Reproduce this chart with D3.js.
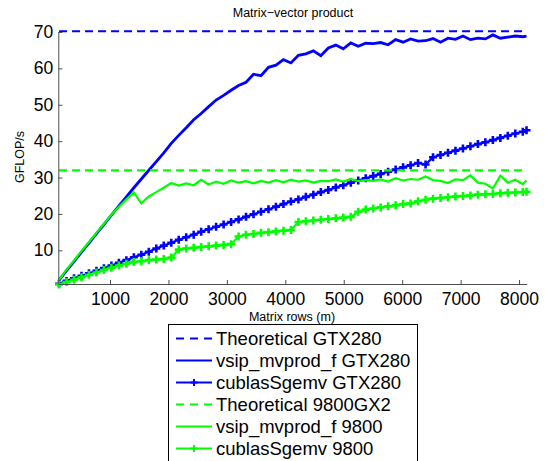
<!DOCTYPE html>
<head>
<style>
  body { margin: 0; background: #fff; }
  svg { font-family: "Liberation Sans", Arial, Helvetica, sans-serif; }
</style>
</head>
<svg width="548" height="461"></svg>
<script src="https://d3js.org/d3.v7.min.js"></script>
<script>

// matrix rows (m)
var rows = [128, 256, 384, 512, 640, 768, 896, 1024, 1152, 1280, 1408, 1536, 1664, 1792, 1920, 2048,
  2176, 2304, 2432, 2560, 2688, 2816, 2944, 3072, 3200, 3328, 3456, 3584, 3712, 3840, 3968, 4096,
  4224, 4352, 4480, 4608, 4736, 4864, 4992, 5120, 5248, 5376, 5504, 5632, 5760, 5888, 6016, 6144,
  6272, 6400, 6528, 6656, 6784, 6912, 7040, 7168, 7296, 7424, 7552, 7680, 7808, 7936, 8064, 8128];

var theoGTX280 = 70.2;
var theo9800 = 32;

var vsipGTX280 = [1.8, 4.4, 6.9, 9.5, 12.0, 14.6, 17.1, 19.7, 22.2, 24.7, 27.2, 29.6, 32.0, 34.4, 36.8, 39.4,
  41.6, 43.7, 45.9, 47.6, 49.5, 51.3, 52.6, 54.0, 55.3, 56.2, 58.4, 58.0, 60.3, 60.9, 62.4, 61.5,
  63.6, 64.0, 64.8, 63.5, 65.6, 66.4, 65.4, 67.0, 66.1, 66.9, 66.8, 67.1, 66.5, 67.9, 67.2, 68.1,
  67.5, 67.6, 68.2, 67.2, 68.3, 68.0, 68.9, 67.9, 68.3, 68.1, 69.2, 68.3, 68.6, 68.9, 68.7, 68.9];

var cublasGTX280 = [0.8, 1.6, 2.3, 3.0, 3.7, 4.4, 5.1, 5.8, 6.6, 7.3, 8.1, 8.8, 9.6, 10.5, 11.3, 12.1,
  12.9, 13.6, 14.3, 15.1, 15.8, 16.5, 17.1, 17.8, 18.5, 19.2, 19.9, 20.6, 21.3, 22.0, 22.7, 23.4,
  24.0, 24.7, 25.3, 26.0, 26.6, 27.3, 27.9, 28.6, 29.2, 29.8, 30.4, 31.0, 31.6, 32.2, 32.8, 33.4,
  34.0, 33.6, 35.6, 36.2, 36.8, 37.4, 38.0, 38.6, 39.2, 39.7, 40.3, 40.9, 41.5, 42.1, 42.6, 43.0];

var vsip9800 = [1.9, 4.7, 7.2, 9.8, 12.3, 14.8, 17.3, 19.8, 22.0, 24.0, 25.9, 22.9, 24.8, 26.0, 27.2, 28.5,
  27.8, 28.4, 27.9, 29.4, 28.1, 28.9, 28.3, 29.2, 28.6, 29.0, 28.4, 29.1, 28.6, 29.3, 28.7, 29.4,
  28.9, 29.2, 28.6, 29.1, 29.0, 29.5, 28.9, 29.6, 29.0, 29.3, 29.1, 29.5, 28.9, 29.8, 29.2, 29.6,
  29.4, 30.3, 29.3, 29.1, 28.5, 29.5, 29.3, 30.6, 28.6, 28.3, 27.0, 30.5, 28.6, 29.4, 28.2, 29.2];

var cublas9800 = [0.6, 1.3, 1.9, 2.6, 3.3, 3.9, 4.6, 5.2, 5.8, 6.3, 6.8, 7.0, 7.3, 7.5, 7.6, 8.0,
  10.2, 10.5, 10.7, 10.9, 11.1, 11.3, 11.5, 11.7, 13.8, 14.3, 14.5, 14.8, 15.0, 15.2, 15.4, 15.6,
  17.8, 18.0, 18.2, 18.4, 18.6, 18.8, 19.0, 19.2, 20.6, 21.2, 21.5, 21.8, 22.1, 22.4, 22.7, 22.9,
  23.5, 23.9, 24.2, 24.4, 24.6, 24.8, 24.9, 25.1, 25.3, 25.4, 25.5, 25.7, 25.8, 25.9, 26.0, 26.1];

var xTicks = [1000, 2000, 3000, 4000, 5000, 6000, 7000, 8000];
var yTicks = [10, 20, 30, 40, 50, 60, 70];

var legendNames = ["Theoretical GTX280", "vsip_mvprod_f GTX280", "cublasSgemv GTX280",
  "Theoretical 9800GX2", "vsip_mvprod_f 9800", "cublasSgemv 9800"];

var blue = "#0000ff", green = "#00ff00", axisColor = "#4d4d4d";

var series = [
  {name: legendNames[0], color: blue, type: "dash", values: rows.map(function() { return theoGTX280; })},
  {name: legendNames[1], color: blue, type: "line", values: vsipGTX280},
  {name: legendNames[2], color: blue, type: "plus", values: cublasGTX280},
  {name: legendNames[3], color: green, type: "dash", values: rows.map(function() { return theo9800; })},
  {name: legendNames[4], color: green, type: "line", values: vsip9800},
  {name: legendNames[5], color: green, type: "plus", values: cublas9800}
];

var svg = d3.select("svg");

var x = d3.scaleLinear().domain([115, 8131]).range([58.3, 526.7]);
var y = d3.scaleLinear().domain([0.75, 70]).range([284, 32]);

var line = d3.line()
    .x(function(d) { return x(d[0]); })
    .y(function(d) { return y(d[1]); });

// series
series.forEach(function(s) {
  var pts = rows.map(function(r, i) { return [r, s.values[i]]; });
  svg.append("path")
      .attr("d", line(pts))
      .attr("fill", "none")
      .attr("stroke", s.color)
      .attr("stroke-width", s.type == "line" && s.color == blue ? 2.8 : 2.2)
      .attr("stroke-dasharray", s.type == "dash" ? "8,5" : null);
  if (s.type == "plus") {
    svg.append("g").selectAll("path")
      .data(pts)
      .enter().append("path")
        .attr("d", function(d) {
          var px = x(d[0]), py = y(d[1]);
          return "M" + (px - 4) + "," + py + "H" + (px + 4) + "M" + px + "," + (py - 4) + "V" + (py + 4);
        })
        .attr("stroke", s.color)
        .attr("stroke-width", 2.6);
  }
});

// axes
var xAxis = svg.append("g")
    .attr("transform", "translate(0,284)")
    .call(d3.axisBottom(x).tickValues(xTicks).tickFormat(d3.format("d"))
      .tickSizeInner(-4).tickSizeOuter(0).tickPadding(9));
var yAxis = svg.append("g")
    .attr("transform", "translate(58.3,0)")
    .call(d3.axisLeft(y).tickValues(yTicks).tickFormat(d3.format("d"))
      .tickSizeInner(-4).tickSizeOuter(0).tickPadding(6));

[xAxis, yAxis].forEach(function(a) {
  a.select(".domain").attr("stroke", axisColor);
  a.selectAll(".tick line").attr("stroke", axisColor);
  a.selectAll("text")
      .attr("fill", "#000")
      .style("font-size", "17.5px")
      .style("font-family", "'Liberation Sans', Arial, sans-serif");
});
yAxis.selectAll("text").attr("x", -5);

svg.append("text")
    .attr("x", 293).attr("y", 17)
    .attr("text-anchor", "middle")
    .style("font-size", "12.5px")
    .text("Matrix\u2212vector product");

svg.append("text")
    .attr("x", 292).attr("y", 321)
    .attr("text-anchor", "middle")
    .style("font-size", "12.5px")
    .text("Matrix rows (m)");

svg.append("text")
    .attr("transform", "translate(24,157) rotate(-90)")
    .attr("text-anchor", "middle")
    .style("font-size", "12.5px")
    .text("GFLOP/s");

// legend
var legend = svg.append("g");
legend.append("rect")
    .attr("x", 168.5).attr("y", 324.5)
    .attr("width", 249).attr("height", 160)
    .attr("fill", "#fff")
    .attr("stroke", "#000");

var item = legend.selectAll(".item")
  .data(series)
  .enter().append("g")
    .attr("class", "item")
    .attr("transform", function(d, i) { return "translate(0," + (338.5 + i * 22) + ")"; });

item.append("line")
    .attr("x1", 176).attr("x2", 212)
    .attr("stroke", function(d) { return d.color; })
    .attr("stroke-width", 2)
    .attr("stroke-dasharray", function(d) { return d.type == "dash" ? "8,6" : null; });

item.filter(function(d) { return d.type == "plus"; })
  .append("path")
    .attr("d", "M190.5,0H197.5M194,-3.5V3.5")
    .attr("stroke", function(d) { return d.color; })
    .attr("stroke-width", 2);

item.append("text")
    .attr("x", 216).attr("y", 6.5)
    .style("font-size", "18.5px")
    .text(function(d) { return d.name; });

</script>
